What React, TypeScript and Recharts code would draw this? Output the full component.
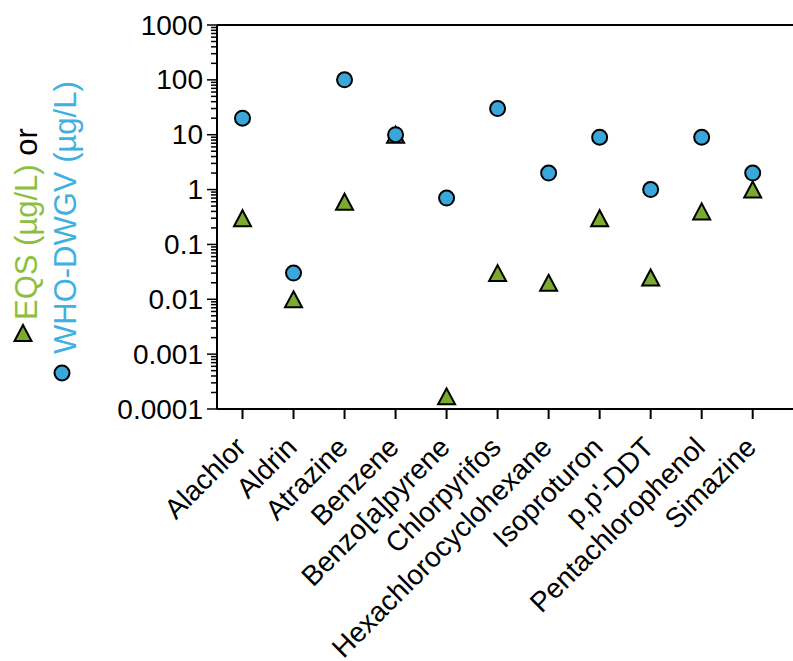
import { ScatterChart, Scatter, XAxis, YAxis, ReferenceLine } from "recharts";

const categories = [
  "Alachlor",
  "Aldrin",
  "Atrazine",
  "Benzene",
  "Benzo[a]pyrene",
  "Chlorpyrifos",
  "Hexachlorocyclohexane",
  "Isoproturon",
  "p,p'-DDT",
  "Pentachlorophenol",
  "Simazine",
];

// EQS (triangles) and WHO drinking water guideline values (circles), µg/L
const eqsValues = [0.3, 0.01, 0.6, 10, 0.00017, 0.03, 0.02, 0.3, 0.025, 0.4, 1];
const whoValues = [20, 0.03, 100, 10, 0.7, 30, 2, 9, 1, 9, 2];

const yMajorTicks = [0.0001, 0.001, 0.01, 0.1, 1, 10, 100, 1000];
const yTickLabels = ["0.0001", "0.001", "0.01", "0.1", "1", "10", "100", "1000"];
const minorSteps = [2, 3, 4, 5, 6, 7, 8, 9];

const FONT = "'Liberation Sans', Arial, Helvetica, sans-serif";
const GREEN = "#7aab2e";
const GREEN_TEXT = "#8cbf3f";
const BLUE = "#3aa7da";
const BLUE_TEXT = "#3fb0e2";

const yTicks: number[] = [];
yMajorTicks.forEach((m, i) => {
  yTicks.push(m);
  if (i < yMajorTicks.length - 1) {
    minorSteps.forEach((s) => yTicks.push(Number((m * s).toPrecision(3))));
  }
});

const eqsData = categories.map((name, i) => ({ x: i, y: eqsValues[i], name }));
const whoData = categories.map((name, i) => ({ x: i, y: whoValues[i], name }));

const YTick = (props: any) => {
  const { x, y, payload } = props;
  const idx = yMajorTicks.indexOf(payload.value);
  const major = idx >= 0;
  const len = major ? 10 : 6;
  return (
    <g>
      <line x1={x - len} x2={x} y1={y} y2={y} stroke="#000" strokeWidth={1.5} />
      {major && (
        <text
          x={x - len - 4}
          y={y}
          textAnchor="end"
          dominantBaseline="central"
          fontSize={28}
          fontFamily={FONT}
          fill="#000"
        >
          {yTickLabels[idx]}
        </text>
      )}
    </g>
  );
};

const XTick = (props: any) => {
  const { x, y, payload } = props;
  const tx = x + 5;
  const ty = y + 40;
  return (
    <g>
      <line x1={x} x2={x} y1={y} y2={y + 10} stroke="#000" strokeWidth={2} />
      <text
        x={tx}
        y={ty}
        textAnchor="end"
        transform={`rotate(-45, ${tx}, ${ty})`}
        fontSize={28}
        fontFamily={FONT}
        fill="#000"
      >
        {categories[payload.value]}
      </text>
    </g>
  );
};

const Triangle = (props: any) => {
  const { cx, cy } = props;
  return (
    <polygon
      points={`${cx},${cy - 8} ${cx + 8.5},${cy + 8} ${cx - 8.5},${cy + 8}`}
      fill={GREEN}
      stroke="#000"
      strokeWidth={2}
      strokeLinejoin="miter"
    />
  );
};

const Circle = (props: any) => {
  const { cx, cy } = props;
  return <circle cx={cx} cy={cy} r={7.5} fill={BLUE} stroke="#000" strokeWidth={2} />;
};

const YLabel = () => (
  <g fontFamily={FONT} fontSize={31}>
    <polygon points="23,325 31.5,341 14.5,341" fill={GREEN} stroke="#000" strokeWidth={2} />
    <text x={37} y={320} transform="rotate(-90, 37, 320)" textAnchor="start">
      <tspan fill={GREEN_TEXT}>EQS (µg/L)</tspan>
      <tspan fill="#000"> or</tspan>
    </text>
    <circle cx={62} cy={373} r={7.5} fill={BLUE} stroke="#000" strokeWidth={2} />
    <text x={76} y={354} transform="rotate(-90, 76, 354)" textAnchor="start" fill={BLUE_TEXT}>
      WHO-DWGV (µg/L)
    </text>
  </g>
);

export default function App() {
  return (
    <div style={{ position: "absolute", left: 0, top: 0, background: "#fff" }}>
      <ScatterChart width={793} height={661} margin={{ top: 25, right: 0, bottom: 0, left: 0 }}>
        <XAxis
          type="number"
          dataKey="x"
          domain={[-0.5, 10.79]}
          ticks={categories.map((_, i) => i)}
          interval={0}
          height={252}
          tickSize={0}
          tickMargin={0}
          tickLine={false}
          axisLine={{ stroke: "#000", strokeWidth: 2 }}
          tick={<XTick />}
          allowDataOverflow
        />
        <YAxis
          type="number"
          dataKey="y"
          scale="log"
          domain={[0.0001, 1000]}
          ticks={yTicks}
          interval={0}
          width={217}
          tickSize={0}
          tickMargin={0}
          tickLine={false}
          axisLine={{ stroke: "#000", strokeWidth: 2 }}
          tick={<YTick />}
          allowDataOverflow
          label={{ content: () => <YLabel /> }}
        />
        <ReferenceLine y={1000} stroke="#000" strokeWidth={2} />
        <Scatter data={eqsData} shape={<Triangle />} isAnimationActive={false} />
        <Scatter data={whoData} shape={<Circle />} isAnimationActive={false} />
      </ScatterChart>
    </div>
  );
}
